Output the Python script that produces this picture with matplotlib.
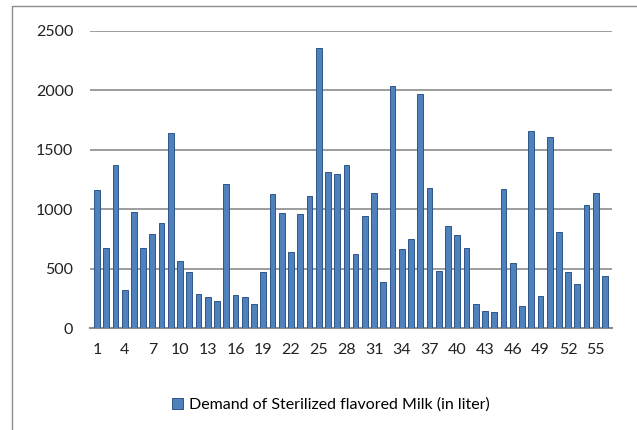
import matplotlib
matplotlib.use("Agg")
import matplotlib.pyplot as plt
from matplotlib.patches import Rectangle

days = list(range(1, 57))
demand = [1165, 672, 1375, 320, 978, 675, 792, 885, 1640, 566,
          468, 288, 258, 224, 1212, 280, 258, 204, 470, 1126,
          966, 638, 958, 1112, 2358, 1313, 1300, 1372, 624, 946,
          1137, 384, 2041, 669, 753, 1966, 1175, 476, 862, 784,
          675, 204, 140, 134, 1168, 546, 185, 1655, 269, 1604,
          804, 473, 372, 1036, 1137, 440]
yticks = [0, 500, 1000, 1500, 2000, 2500]
label = "Demand of Sterilized flavored Milk (in liter)"

plt.rcParams["font.family"] = ["Lato", "DejaVu Sans"]
fig = plt.figure(figsize=(6.37, 4.30), dpi=100)
ax = fig.add_axes([90 / 637, 1 - 328 / 430, 522 / 637, 297 / 430])

ax.bar(days, demand, width=0.62, color="#4F81BD", edgecolor="#2F5688",
       linewidth=0.7, label=label, zorder=3)
ax.set_xlim(0.25, 56.75)
ax.set_ylim(0, 2500)
ax.set_yticks(yticks)
ax.set_xticks(days[::3])
ax.tick_params(length=0, labelsize=11.5, colors="#222222")
ax.tick_params(axis="y", pad=12)
ax.tick_params(axis="x", pad=11)
ax.grid(axis="y", color="#8c8c8c", linewidth=1.2, zorder=0)
for s in ["top", "right", "left"]:
    ax.spines[s].set_visible(False)
ax.spines["bottom"].set_color("#8c8c8c")
ax.spines["bottom"].set_linewidth(1.5)

fig.legend(loc="center", bbox_to_anchor=(0.52, 1 - 405 / 430), frameon=False,
           fontsize=11.5, handlelength=0.65, handleheight=0.65, handletextpad=0.4)

fig.patches.append(Rectangle((12 / 637, -0.01), 1.0, 1 - 6 / 430 + 0.01,
                             transform=fig.transFigure, fill=False,
                             edgecolor="#8c8c8c", linewidth=1))
fig.savefig("out.png", dpi=100)
